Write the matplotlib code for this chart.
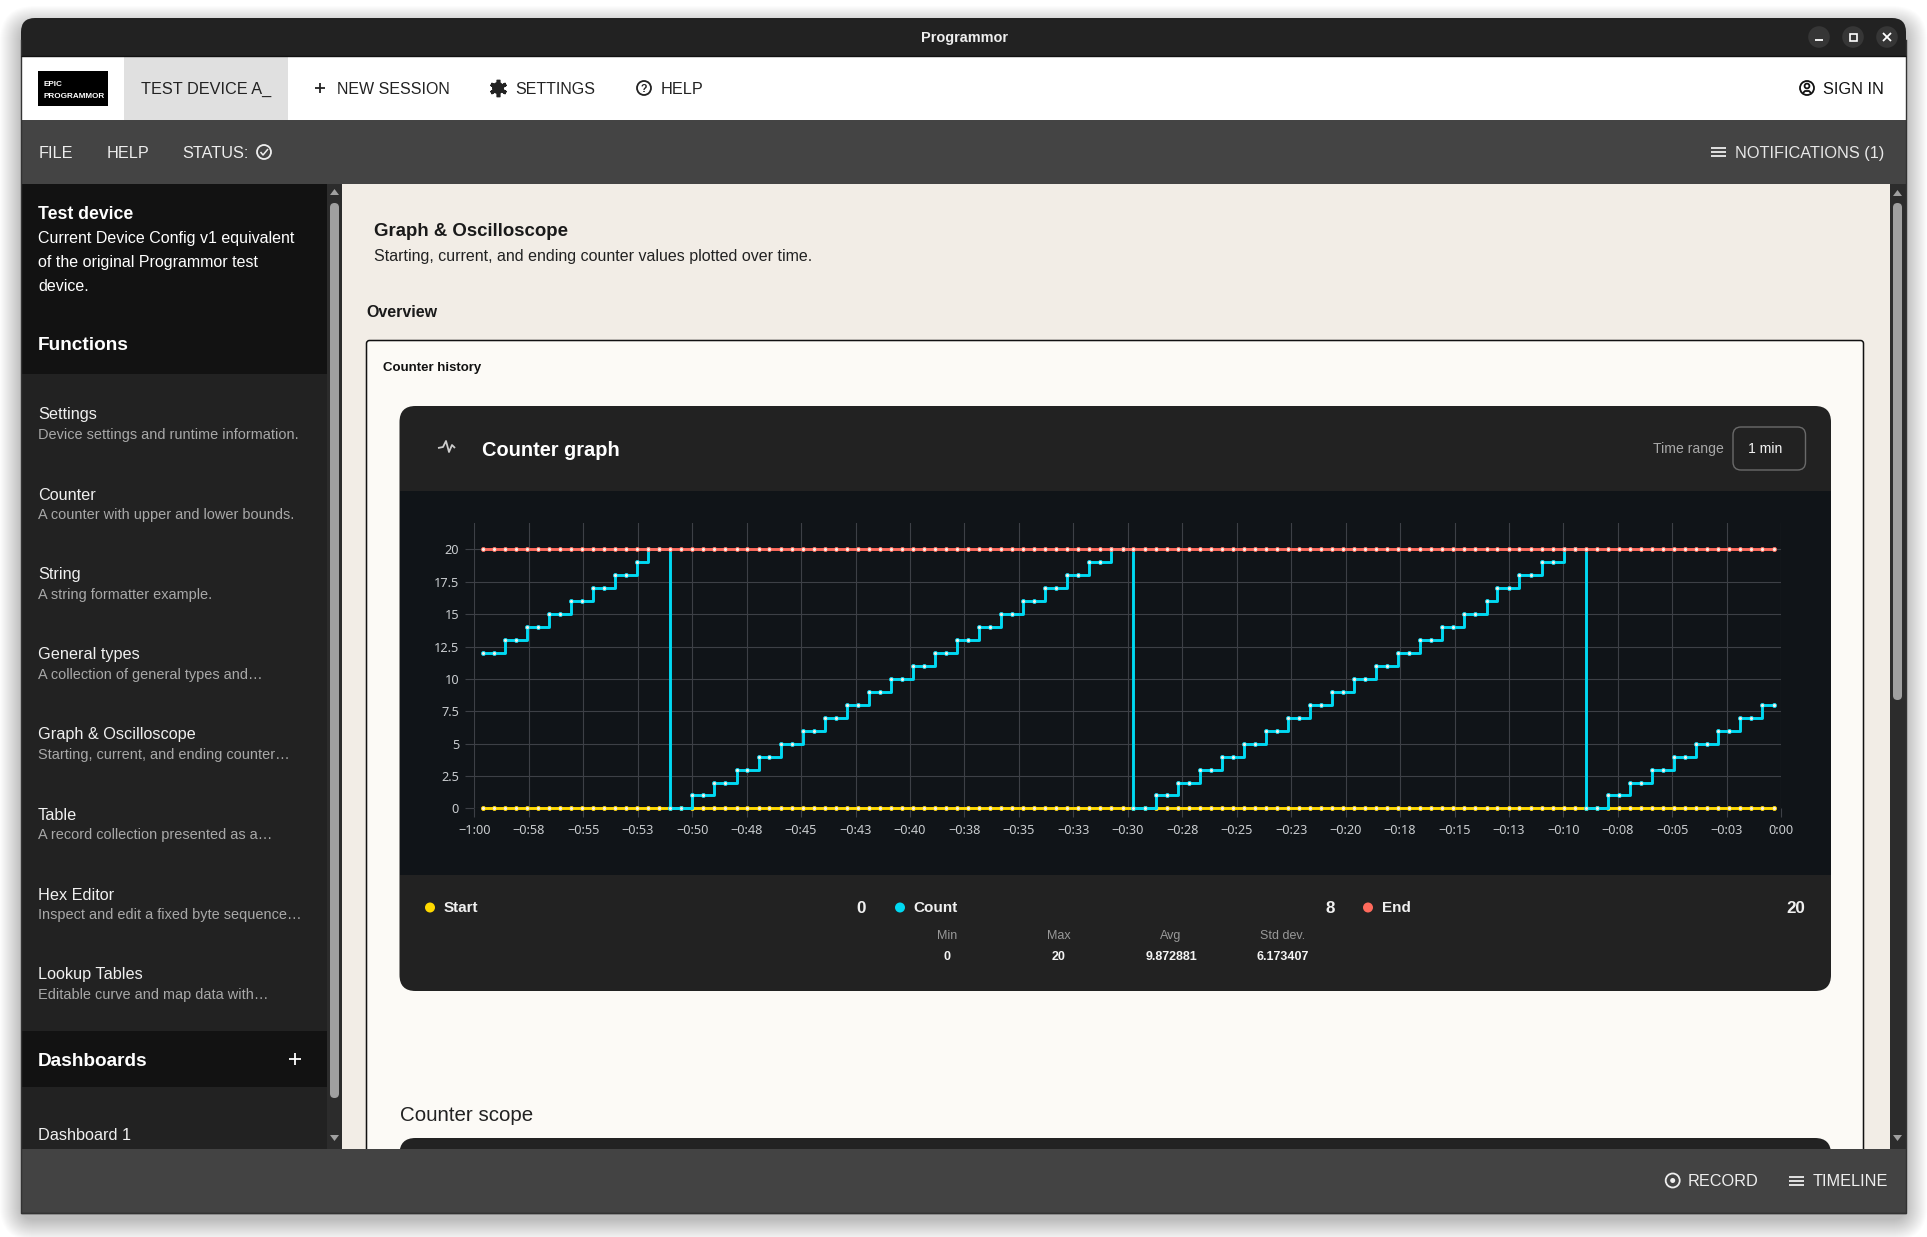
import matplotlib
matplotlib.use('Agg')
import matplotlib.pyplot as plt
from matplotlib.patches import Circle, FancyBboxPatch, Rectangle, Polygon

plt.rcParams['font.family'] = ['Liberation Sans', 'DejaVu Sans']

# counter samples, seconds before now
times = [-59.61, -59.10, -58.60, -58.09, -57.59, -57.08, -56.57, -56.07, -55.56, -55.05,
         -54.55, -54.04, -53.53, -53.03, -52.52, -52.02, -51.51, -51.00, -50.50, -49.99,
         -49.48, -48.98, -48.47, -47.96, -47.46, -46.95, -46.45, -45.94, -45.43, -44.93,
         -44.42, -43.91, -43.41, -42.90, -42.40, -41.89, -41.38, -40.88, -40.37, -39.86,
         -39.36, -38.85, -38.34, -37.84, -37.33, -36.83, -36.32, -35.81, -35.31, -34.80,
         -34.29, -33.79, -33.28, -32.78, -32.27, -31.76, -31.26, -30.75, -30.24, -29.74,
         -29.23, -28.72, -28.22, -27.71, -27.21, -26.70, -26.19, -25.69, -25.18, -24.67,
         -24.17, -23.66, -23.15, -22.65, -22.14, -21.64, -21.13, -20.62, -20.12, -19.61,
         -19.10, -18.60, -18.09, -17.59, -17.08, -16.57, -16.07, -15.56, -15.05, -14.55,
         -14.04, -13.53, -13.03, -12.52, -12.02, -11.51, -11.00, -10.50, -9.99, -9.48,
         -8.98, -8.47, -7.96, -7.46, -6.95, -6.45, -5.94, -5.43, -4.93, -4.42,
         -3.91, -3.41, -2.90, -2.40, -1.89, -1.38, -0.88, -0.33]
count = [12, 12, 13, 13, 14, 14, 15, 15, 16, 16, 17, 17, 18, 18, 19, 20, 20,
         0, 0, 1, 1, 2, 2, 3, 3, 4, 4, 5, 5, 6, 6, 7, 7, 8, 8, 9, 9, 10, 10,
         11, 11, 12, 12, 13, 13, 14, 14, 15, 15, 16, 16, 17, 17, 18, 18, 19, 19, 20, 20,
         0, 0, 1, 1, 2, 2, 3, 3, 4, 4, 5, 5, 6, 6, 7, 7, 8, 8, 9, 9, 10, 10,
         11, 11, 12, 12, 13, 13, 14, 14, 15, 15, 16, 17, 17, 18, 18, 19, 19, 20, 20,
         0, 0, 1, 1, 2, 2, 3, 3, 4, 4, 5, 5, 6, 6, 7, 7, 8, 8]
start = [0] * len(times)
end = [20] * len(times)

x_ticks = [-60, -57.5, -55, -52.5, -50, -47.5, -45, -42.5, -40, -37.5, -35, -32.5, -30,
           -27.5, -25, -22.5, -20, -17.5, -15, -12.5, -10, -7.5, -5, -2.5, 0]
x_labels = ['−1:00', '−0:58', '−0:55', '−0:53', '−0:50', '−0:48', '−0:45', '−0:43', '−0:40',
            '−0:38', '−0:35', '−0:33', '−0:30', '−0:28', '−0:25', '−0:23', '−0:20', '−0:18',
            '−0:15', '−0:13', '−0:10', '−0:08', '−0:05', '−0:03', '0:00']
y_ticks = [0, 2.5, 5, 7.5, 10, 12.5, 15, 17.5, 20]
y_labels = ['0', '2.5', '5', '7.5', '10', '12.5', '15', '17.5', '20']

legend_names = ['Start', 'Count', 'End']
legend_values = ['0', '8', '20']
stat_names = ['Min', 'Max', 'Avg', 'Std dev.']
stat_values = ['0', '20', '9.872881', '6.173407']

sidebar_titles = ['Settings', 'Counter', 'String', 'General types', 'Graph & Oscilloscope',
                  'Table', 'Hex Editor', 'Lookup Tables']
sidebar_subs = ['Device settings and runtime information.',
                'A counter with upper and lower bounds.',
                'A string formatter example.',
                'A collection of general types and…',
                'Starting, current, and ending counter…',
                'A record collection presented as a…',
                'Inspect and edit a fixed byte sequence…',
                'Editable curve and map data with…']

CYAN = '#00d9f2'
RED = '#ff6a5c'
YELLOW = '#ffd900'
W, H = 1927, 1237

fig = plt.figure(figsize=(W / 100, H / 100), dpi=100, facecolor='white')
ui = fig.add_axes([0, 0, 1, 1])
ui.set_xlim(0, W)
ui.set_ylim(H, 0)
ui.axis('off')


def txt(x, y, s, px, color='white', weight='normal', ha='left', **kw):
    ui.text(x, y, s, fontsize=px * 0.72, color=color, fontweight=weight, ha=ha,
            va='center_baseline', **kw)


def box(x0, y0, x1, y1, color):
    ui.add_patch(Rectangle((x0, y0), x1 - x0, y1 - y0, fc=color, ec='none'))


def rbox(x0, y0, x1, y1, r, fc, ec='none', lw=0):
    ui.add_patch(FancyBboxPatch((x0 + r, y0 + r), x1 - x0 - 2 * r, y1 - y0 - 2 * r,
                                boxstyle=f'round,pad={r},rounding_size={r}',
                                fc=fc, ec=ec, lw=lw))


def line(xs, ys, color, lw=1.3):
    ui.plot(xs, ys, color=color, lw=lw, solid_capstyle='butt')


def burger(x, y, color):
    for dy in [-4, 0, 4]:
        line([x - 7.5, x + 7.5], [y + dy, y + dy], color)


def ring(x, y, r, color, lw=1.3):
    ui.add_patch(Circle((x, y), r, fc='none', ec=color, lw=lw))


# window shadow
for i in range(22):
    rbox(21 - i, 27 - i, 1906 + i, 1220 + i, 14 + i, '#000000')
    ui.patches[-1].set_alpha(0.013)

# window chrome
rbox(21, 18, 1906, 90, 14, '#222222')
box(21, 56, 1906, 120, 'white')
box(21, 120, 1906, 184, '#444444')
box(21, 184, 1906, 1149, '#f2ede6')
box(21, 1149, 1906, 1213, '#434343')
ui.plot([21, 21, 1906, 1906], [40, 1213, 1213, 40], color='#333333', lw=1)
line([21, 1906], [55.5, 55.5], '#111111', 1)

txt(964, 36.5, 'Programmor', 14.5, '#eeeeee', 'bold', ha='center')
for cx in [1819, 1853, 1887]:
    ui.add_patch(Circle((cx, 37), 10.8, fc='#363636', ec='none'))
line([1815, 1823], [40, 40], 'white')
ui.add_patch(Rectangle((1849.5, 33.5), 7, 7, fc='none', ec='white', lw=1.2))
line([1883, 1891], [33, 41], 'white')
line([1883, 1891], [41, 33], 'white')

# top menu
box(38, 71, 108, 106, 'black')
txt(43, 83, 'EPIC', 8.2, 'white', 'bold')
txt(43, 95, 'PROGRAMMOR', 8.2, 'white', 'bold')
box(124, 56, 288, 120, '#e0e0e0')
txt(141, 88, 'TEST DEVICE A_', 16.3, '#222222')
line([315, 325], [88, 88], '#222222')
line([320, 320], [83, 93], '#222222')
txt(337, 88, 'NEW SESSION', 16, '#222222')
ui.plot([498], [88], marker=(6, 2, 0), ms=12.5, color='#222222', mew=2.6)
ui.add_patch(Circle((498, 88), 6, fc='#222222', ec='none'))
ui.add_patch(Circle((498, 88), 2.6, fc='white', ec='none'))
txt(515, 88, 'SETTINGS', 16, '#222222')
ring(644, 88, 7, '#222222')
txt(644, 88, '?', 10.5, '#222222', 'bold', ha='center')
txt(661, 88, 'HELP', 16.2, '#222222')
ring(1807, 88, 7, '#111111')
ring(1807, 86, 2.4, '#111111')
line([1803, 1805, 1809, 1811], [93, 91, 91, 93], '#111111')
txt(1884, 88, 'SIGN IN', 16.2, '#111111', ha='right')

# status bar
txt(39, 152, 'FILE', 16.2, '#eeeeee')
txt(107, 152, 'HELP', 16.2, '#eeeeee')
txt(182, 152, 'STATUS:', 16.2, '#eeeeee')
ring(264, 152, 7, '#eeeeee')
line([260.5, 263, 268], [152, 155, 149], '#eeeeee', 1.1)
burger(1718, 152, '#eeeeee')
txt(1884, 152, 'NOTIFICATIONS (1)', 16.2, '#e8e8e8', ha='right')

# sidebar
box(21, 184, 327, 1149, '#222222')
box(21, 184, 327, 374, '#121212')
box(21, 1031, 327, 1087, '#121212')
box(327, 184, 342, 1149, '#2c2c2c')
rbox(330, 203, 339, 1098, 4.5, '#a0a0a0')
ui.add_patch(Polygon([(330, 195), (339, 195), (334.5, 189)], fc='#a0a0a0', ec='none'))
ui.add_patch(Polygon([(330, 1135), (339, 1135), (334.5, 1141)], fc='#a0a0a0', ec='none'))

txt(38, 212.5, 'Test device', 17.6, 'white', 'bold')
txt(38, 237, 'Current Device Config v1 equivalent', 16)
txt(38, 261, 'of the original Programmor test', 16)
txt(38, 285, 'device.', 16)
txt(38, 344, 'Functions', 19, 'white', 'bold')
for i in range(len(sidebar_titles)):
    txt(38, 413.5 + i * 80, sidebar_titles[i], 16.2, '#f0f0f0')
    txt(38, 434 + i * 80, sidebar_subs[i], 14.5, '#a8a8a8')
txt(38, 1059, 'Dashboards', 19, 'white', 'bold')
line([289, 301], [1059, 1059], 'white')
line([295, 295], [1053, 1065], 'white')
txt(38, 1134, 'Dashboard 1', 16.2, '#f0f0f0')

# page header
box(1890, 184, 1905.5, 1149, '#2c2c2c')
rbox(1893, 203, 1902, 700, 4.5, '#a0a0a0')
ui.add_patch(Polygon([(1893, 196), (1902, 196), (1897.5, 190)], fc='#a0a0a0', ec='none'))
ui.add_patch(Polygon([(1893, 1135), (1902, 1135), (1897.5, 1141)], fc='#a0a0a0', ec='none'))
txt(374, 230, 'Graph & Oscilloscope', 18.7, '#1a1a1a', 'bold')
txt(374, 255.5, 'Starting, current, and ending counter values plotted over time.', 16, '#222222')
txt(366, 311, 'Overview', 16, '#1a1a1a', 'bold')

# panel
rbox(366.5, 340.5, 1863.5, 1200, 3, '#fcfaf6', '#111111', 1.1)
txt(383, 366, 'Counter history', 13.3, '#111111', 'bold')

# graph card
rbox(399.5, 406, 1831, 991, 16, '#222222')
box(399.5, 491, 1831, 875, '#101418')
line([438, 443, 446, 449, 452, 455], [448, 447, 441, 452, 445, 448], '#cccccc', 1.3)
txt(482, 448, 'Counter graph', 20, 'white', 'bold')
txt(1653, 447, 'Time range', 14, '#a8a8a8')
rbox(1733, 427, 1805.5, 470, 8, 'none', '#6a6a6a', 1)
txt(1748, 447.5, '1 min', 14, '#f4f4f4')

# legend row
dot_x = [430, 900, 1368]
dot_colors = [YELLOW, CYAN, RED]
name_x = [444, 913, 1382]
value_x = [866, 1335, 1805]
for i in range(3):
    ui.add_patch(Circle((dot_x[i], 907.5), 5, fc=dot_colors[i], ec='none'))
    txt(name_x[i], 907, legend_names[i], 15.2, '#f0f0f0', 'bold')
    txt(value_x[i], 907, legend_values[i], 17, '#f0f0f0', 'bold', ha='right')
stat_x = [947, 1059, 1171, 1283]
for i in range(4):
    txt(stat_x[i], 934.5, stat_names[i], 12.5, '#999999', ha='center')
    txt(stat_x[i], 955.5, stat_values[i], 12.5, '#f4f4f4', 'bold', ha='center')

# second card and bottom bar
txt(399.5, 1113.5, 'Counter scope', 20.5, '#222222')
rbox(399.5, 1138, 1831, 1200, 16, '#222222')
box(21, 1149, 1906, 1212, '#434343')
line([21, 1906], [1212.5, 1212.5], '#333333', 1)
ring(1672.7, 1180.5, 7, '#eeeeee')
ui.add_patch(Circle((1672.7, 1180.5), 2.5, fc='#eeeeee', ec='none'))
txt(1758, 1180.5, 'RECORD', 16.2, '#eeeeee', ha='right')
burger(1796, 1180.5, '#eeeeee')
txt(1888, 1180.5, 'TIMELINE', 16.2, '#eeeeee', ha='right')

# the chart itself
left, right, top, bottom = 474.3, 1781.3, 523, 808.4
ax = fig.add_axes([left / W, 1 - bottom / H, (right - left) / W, (bottom - top) / H])
ax.set_facecolor('#101418')
ax.set_xlim(-60, 0)
ax.set_ylim(0, (bottom - top) / 12.95)
for s in ax.spines.values():
    s.set_visible(False)
ax.set_xticks(x_ticks, x_labels)
ax.set_yticks(y_ticks, y_labels)
ax.tick_params(length=6.5, width=0.8, color='#3d4046', labelcolor='#c9cccf', labelsize=9.2, pad=4.5)
for lab in ax.get_xticklabels() + ax.get_yticklabels():
    lab.set_family('Noto Sans')
ax.grid(True, color='#3d4046', lw=0.8)
ax.set_axisbelow(True)

for values, color in [(start, YELLOW), (count, CYAN), (end, RED)]:
    ax.plot(times, values, drawstyle='steps-post', color=color, lw=2.1, marker='o', ms=2.9,
            mfc='#f6efe6', mec=color, mew=0.6, clip_on=False)

fig.savefig('out.png', dpi=100)
